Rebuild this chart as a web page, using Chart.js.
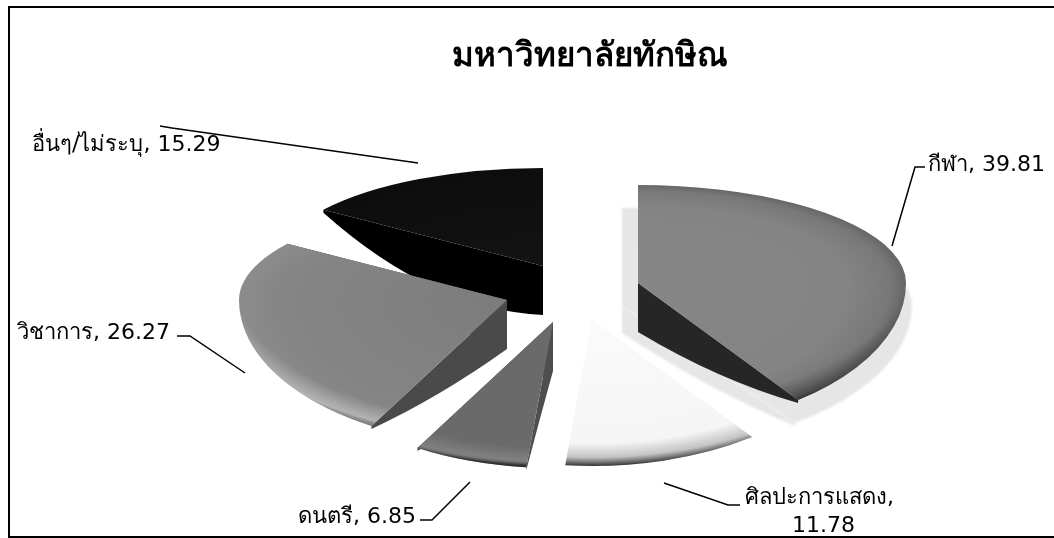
<!DOCTYPE html>
<html>
<head>
  <title>มหาวิทยาลัยทักษิณ</title>
  <script src="https://cdn.jsdelivr.net/npm/chart.js"></script>
  <style>
    body { margin: 0; background-color: #fff; }
    canvas { display: block; }
  </style>
</head>
<body>
  <canvas id="pieChart" width="1054" height="538"></canvas>

  <script>
    const chartTitle = 'มหาวิทยาลัยทักษิณ';
    const categories = ['กีฬา', 'ศิลปะการแสดง', 'ดนตรี', 'วิชาการ', 'อื่นๆ/ไม่ระบุ'];
    const shares = [39.81, 11.78, 6.85, 26.27, 15.29];

    // how far each slice is pulled out of the pie, from the pie centre
    const centerX = 573, centerY = 300;
    const explodeX = [65, 19, -20, -66, -30];
    const explodeY = [-17, 20, 22, 0, -34];

    // the picture is a tilted pie: the far half is flatter than the near half
    const radius = 268, farRadius = 98, nearRadius = 146, depth = 49;

    const drawOrder = [4, 0, 1, 3, 2];
    const wallColors = ['#262626', '#f2f2f2', '#4e4e4e', '#4a4a4a', '#000000'];
    const wallBulge = [14, 0, 0, 10, 48];
    const surfaceStops = [
      [[0, '#868686'], [0.78, '#848484'], [0.94, '#787878'], [1, '#666666']],
      [[0, '#fbfbfb'], [1, '#f4f4f4']],
      [[0, '#6a6a6a'], [1, '#6a6a6a']],
      [[0, '#7c7c7c'], [0.85, '#858585'], [1, '#8c8c8c']],
      [[0, '#131313'], [1, '#0d0d0d']]
    ];
    // bevel on the near rim, it fades out towards the sides of the pie
    const rimStops = [
      [[0.86, 'rgba(0,0,0,0)'], [0.95, 'rgba(0,0,0,0.3)'], [0.985, 'rgba(0,0,0,0.65)'], [1, 'rgba(0,0,0,0.9)']],
      [[0.87, 'rgba(0,0,0,0)'], [0.95, 'rgba(0,0,0,0.2)'], [0.985, 'rgba(0,0,0,0.6)'], [1, 'rgba(0,0,0,0.8)']],
      [[0.88, 'rgba(255,255,255,0)'], [0.96, 'rgba(255,255,255,0.15)'], [0.985, 'rgba(0,0,0,0.4)'], [1, 'rgba(0,0,0,0.75)']],
      [[0.86, 'rgba(255,255,255,0)'], [0.95, 'rgba(255,255,255,0.35)'], [0.985, 'rgba(0,0,0,0.1)'], [1, 'rgba(0,0,0,0.5)']],
      [[0.9, 'rgba(0,0,0,0)'], [1, 'rgba(0,0,0,0)']]
    ];

    // label text and its leader line
    const labelFont = '22px "DejaVu Sans", Tahoma, "Noto Sans", sans-serif';
    const titleFont = 'bold 33px "DejaVu Sans", Tahoma, "Noto Sans", sans-serif';
    const labelLines = [
      [{ text: categories[0] + ', ' + shares[0], x: 928, y: 165 }],
      [{ text: categories[1] + ',', x: 745, y: 498 }, { text: String(shares[1]), x: 792, y: 526 }],
      [{ text: categories[2] + ', ' + shares[2], x: 298, y: 517 }],
      [{ text: categories[3] + ', ' + shares[3], x: 17, y: 333 }],
      [{ text: categories[4] + ', ' + shares[4], x: 32, y: 145 }]
    ];
    const leaders = [
      [[892, 246], [915, 167], [925, 167]],
      [[664, 483], [728, 505], [740, 505]],
      [[470, 482], [432, 520], [420, 520]],
      [[245, 373], [190, 336], [177, 336]],
      [[418, 163], [172, 128], [160, 126]]
    ];

    function makeGradient(ctx, arc, stops) {
      const g = ctx.createRadialGradient(arc.x, arc.y, 0, arc.x, arc.y, radius);
      stops.forEach(s => g.addColorStop(s[0], s[1]));
      return g;
    }

    // same idea, but the circle sits higher so the band only shows near the bottom
    function makeRimGradient(ctx, arc, stops) {
      const lift = radius * 0.2;
      const g = ctx.createRadialGradient(arc.x, arc.y - lift, 0, arc.x, arc.y - lift, radius + lift);
      stops.forEach(s => g.addColorStop(s[0], s[1]));
      return g;
    }

    // draw one half of a slice with the library's own arc element
    function drawHalf(ctx, arc, ax, ay, ry, fill, isFar, scaleX) {
      ctx.save();
      ctx.beginPath();
      if (isFar) {
        ctx.rect(0, 0, 1054, ay);
      } else {
        ctx.rect(0, ay, 1054, 538 - ay);
      }
      ctx.clip();
      ctx.translate(ax, ay);
      ctx.scale(scaleX || 1, ry / radius);
      ctx.translate(-arc.x, -arc.y);
      const opts = arc.options;
      arc.options = Object.assign({}, opts, { backgroundColor: fill });
      arc.draw(ctx);
      arc.options = opts;
      ctx.restore();
    }

    // point on the rim of the flattened pie, for the cut walls
    function rimPoint(ax, ay, angle, scaleX) {
      const dx = Math.cos(angle) * radius * (scaleX || 1);
      const dy = Math.sin(angle);
      return [ax + dx, ay + dy * (dy < 0 ? farRadius : nearRadius)];
    }

    function drawWall(ctx, ax, ay, angle, color, bulge, wallDepth, scaleX) {
      const e = rimPoint(ax, ay, angle, scaleX);
      ctx.beginPath();
      ctx.moveTo(ax, ay);
      ctx.lineTo(ax, ay + wallDepth);
      ctx.quadraticCurveTo((ax + e[0]) / 2, (ay + wallDepth + e[1]) / 2 + bulge, e[0], e[1] + 3);
      ctx.lineTo(e[0], e[1]);
      ctx.closePath();
      ctx.fillStyle = color;
      ctx.fill();
    }

    const tiltedPie = {
      id: 'tiltedPie',
      beforeDatasetDraw(chart, args) {
        const ctx = chart.ctx;
        const arcs = args.meta.data;

        drawOrder.forEach(i => {
          const arc = arcs[i];
          const ax = centerX + explodeX[i];
          const ay = centerY + explodeY[i];

          // soft grey shadow behind the largest slice
          if (i === 0) {
            ctx.save();
            ctx.filter = 'blur(1px)';
            drawHalf(ctx, arc, ax - 16, ay + 23, farRadius, '#e6e6e6', true, 1.082);
            drawHalf(ctx, arc, ax - 16, ay + 23, nearRadius, '#e6e6e6', false, 1.082);
            drawWall(ctx, ax - 16, ay + 23, arc.endAngle, '#e6e6e6', 12, 27, 1.082);
            ctx.restore();
          }

          drawWall(ctx, ax, ay, arc.startAngle, wallColors[i], wallBulge[i], depth);
          drawWall(ctx, ax, ay, arc.endAngle, wallColors[i], wallBulge[i], depth);
          const surface = makeGradient(ctx, arc, surfaceStops[i]);
          drawHalf(ctx, arc, ax, ay, farRadius, surface, true);
          drawHalf(ctx, arc, ax, ay, nearRadius, surface, false);
          drawHalf(ctx, arc, ax, ay, nearRadius, makeRimGradient(ctx, arc, rimStops[i]), false);
        });
        return false;
      },
      afterDraw(chart) {
        const ctx = chart.ctx;
        ctx.save();

        ctx.strokeStyle = '#000';
        ctx.lineWidth = 2;
        ctx.strokeRect(9, 7, 1046, 530);

        ctx.fillStyle = '#000';
        ctx.textBaseline = 'middle';
        ctx.textAlign = 'left';
        ctx.font = titleFont;
        ctx.fillText(chartTitle, 452, 57);

        ctx.font = labelFont;
        labelLines.forEach(lines => {
          lines.forEach(l => ctx.fillText(l.text, l.x, l.y));
        });

        ctx.lineWidth = 1.5;
        leaders.forEach(pts => {
          ctx.beginPath();
          pts.forEach((p, k) => k ? ctx.lineTo(p[0], p[1]) : ctx.moveTo(p[0], p[1]));
          ctx.stroke();
        });
        ctx.restore();
      }
    };

    new Chart(document.getElementById('pieChart').getContext('2d'), {
      type: 'pie',
      data: {
        labels: categories,
        datasets: [{ data: shares, borderWidth: 0, radius: radius, backgroundColor: '#888' }]
      },
      options: {
        responsive: false,
        animation: false,
        plugins: { legend: { display: false }, tooltip: { enabled: false } }
      },
      plugins: [tiltedPie]
    });
  </script>
</body>
</html>
